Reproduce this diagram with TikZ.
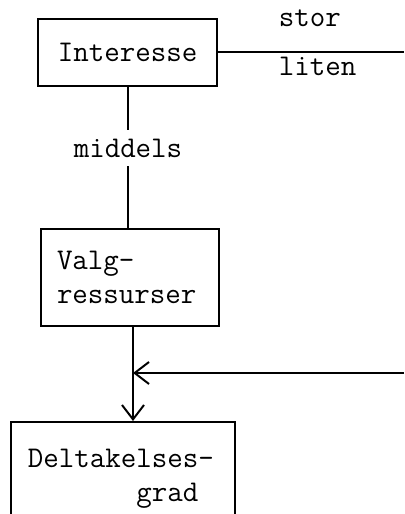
\documentclass[tikz,border=0pt]{standalone}
\usetikzlibrary{arrows.meta}
\begin{document}
\begin{tikzpicture}[font=\ttfamily\fontsize{21.4}{24.5}\selectfont, line width=1.4pt,
  box/.style={draw, line width=1.4pt, inner sep=0pt},
  barb/.style={-{Straight Barb[length=0.36cm, width=0.55cm, line width=1.4pt]}}]
  \useasboundingbox (0,0) rectangle (10.1,12.85);
  \clip (0,0) rectangle (10.1,12.85);
  \node[box, minimum width=4.475cm, minimum height=1.675cm] (interesse) at (3.19,11.54) {Interesse};
  \node[box, minimum width=4.45cm, minimum height=2.425cm, align=left, text width=3.65cm, inner xsep=0.4cm] (valg) at (3.25,5.91) {Valg-\\ressurser};
  \node[box, anchor=north west, minimum height=2.85cm, align=left, text width=4.75cm, inner xsep=0.425cm] (delta) at (0.25,2.325) {Deltakelses-\\\phantom{Deltake}grad};
  \node[inner sep=0.2cm] (middels) at (3.2,9.15) {middels};
  \node[anchor=base west, inner sep=0pt] (stor) at (6.95,12.175) {stor};
  \node[anchor=base west, inner sep=0pt] (liten) at (6.95,10.95) {liten};
  \coordinate (out) at (10.1,11.54);
  \coordinate (join) at (3.325,3.525);
  \coordinate (back) at (10.1,3.525);
  \draw (interesse.east) -- (out);
  \draw (middels.north) -- (middels.north |- interesse.south);
  \draw (middels.south) -- (middels.south |- valg.north);
  \draw (valg.south -| join) -- (join);
  \draw[barb] (join) -- (join |- delta.north);
  \draw[barb] (back) -- (join);
\end{tikzpicture}
\end{document}
